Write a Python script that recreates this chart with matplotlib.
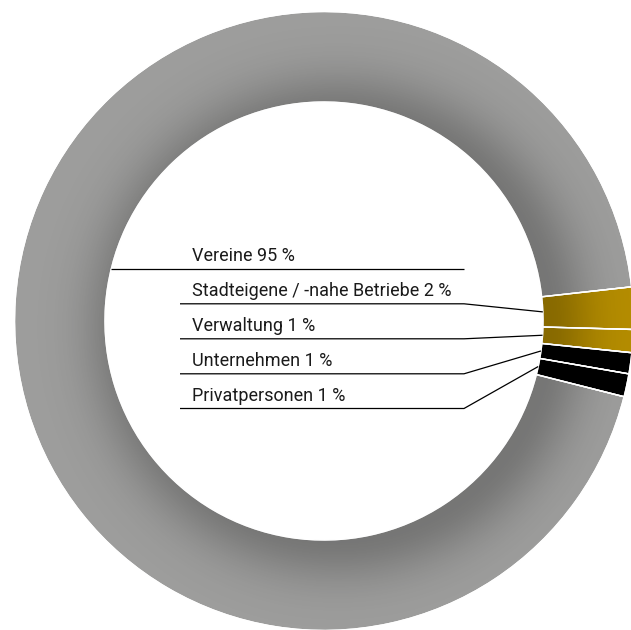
import numpy as np
import matplotlib
matplotlib.use("Agg")
import matplotlib.pyplot as plt
from matplotlib.patches import Wedge

# ---- data ----
categories = ["Vereine", "Stadteigene / -nahe Betriebe", "Verwaltung", "Unternehmen", "Privatpersonen"]
label_pct = [95, 2, 1, 1, 1]
shares = [94.4, 2.2, 1.2, 1.1, 1.2]          # drawn wedge shares
colors = ["#9d9d9c", "#b58d00", "#b58d00", "#000000", "#000000"]

# ---- layout (pixel coordinates, y up) ----
W, H = 631, 630
cx, cy = 324, H - 321
r_out, r_in = 309.5, 219
start = 6 + 360 * shares[0] / 100.0

fig = plt.figure(figsize=(W / 100, H / 100), dpi=100)
ax = fig.add_axes([0, 0, 1, 1])
wedges, _ = ax.pie(shares, radius=r_out, center=(cx, cy), startangle=start,
                   counterclock=False, colors=colors,
                   wedgeprops=dict(width=r_out - r_in, edgecolor="white", linewidth=1.0))
ax.set_xlim(0, W)
ax.set_ylim(0, H)
ax.set_aspect("auto")
ax.axis("off")

# inner drop shadow on the ring
yy, xx = np.mgrid[0:H, 0:W] + 0.5
sx, sy = cx + 14, cy - 6
d = np.hypot(xx - sx, (H - yy) - sy)
t = np.clip((d - (r_in - 10)) / 45.0, 0, None)
alpha = 0.25 * np.exp(-t ** 2)
rgba = np.zeros((H, W, 4))
rgba[..., 3] = alpha
im = ax.imshow(rgba, extent=(0, W, 0, H), origin="upper", zorder=3, interpolation="bilinear")
clip = Wedge((cx, cy), r_out, 0, 360, width=r_out - r_in, transform=ax.transData)
im.set_clip_path(clip)
# re-draw white separators on top of the shadow
for w in wedges:
    ax.add_patch(Wedge(w.center, w.r, w.theta1, w.theta2, width=w.width,
                       facecolor="none", edgecolor="white", linewidth=1.0, zorder=4))

# ---- labels and leader lines ----
line_y_px = [268.8, 303.8, 338.8, 373.8, 408.5]
text_x = 192
left_x = 180
knee_x = 464
for i, (cat, p) in enumerate(zip(categories, label_pct)):
    ly = H - line_y_px[i]
    ax.text(text_x, ly + 7.5, f"{cat} {p} %", fontsize=13, family="Roboto",
            color="#1a1a1a", va="baseline", ha="left", zorder=6)
    if i == 0:
        x0 = cx - np.sqrt(r_in ** 2 - (ly - cy) ** 2)
        ax.plot([x0, knee_x], [ly, ly], color="black", lw=0.9, zorder=5,
                solid_capstyle="butt")
    else:
        w = wedges[i]
        mid = np.deg2rad((w.theta1 + w.theta2) / 2)
        ex = cx + r_in * np.cos(mid)
        ey = cy + r_in * np.sin(mid)
        ax.plot([left_x, knee_x, ex], [ly, ly, ey], color="black", lw=0.9, zorder=5,
                solid_capstyle="butt")

fig.savefig("out.png", dpi=100, facecolor="white")
